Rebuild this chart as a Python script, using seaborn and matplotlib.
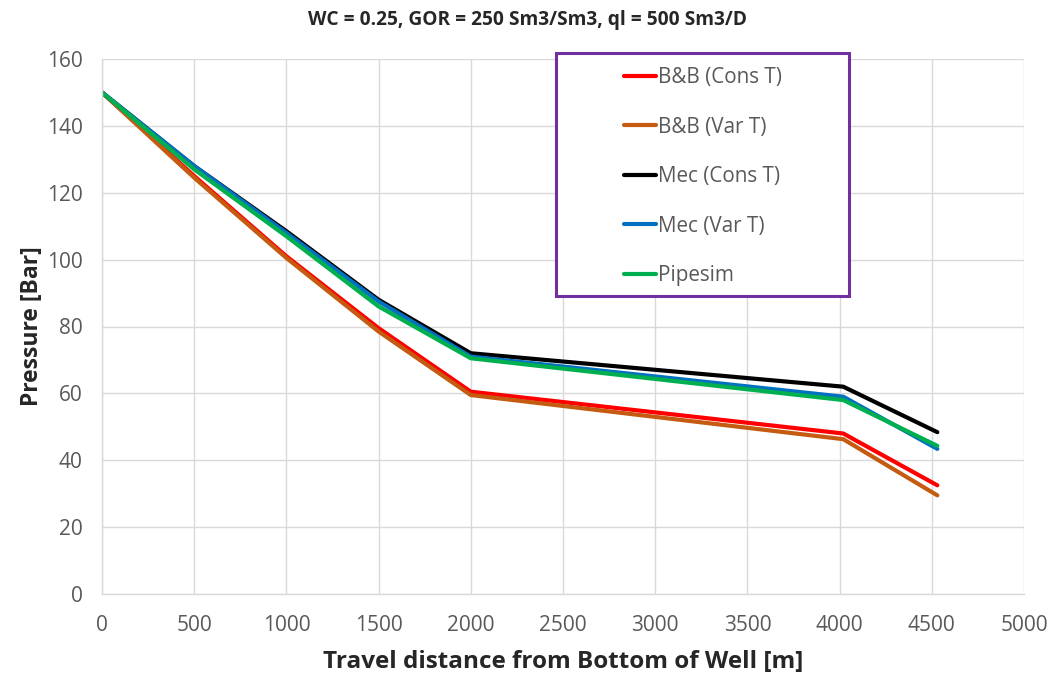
import pandas as pd
import matplotlib
matplotlib.use("Agg")
import matplotlib.pyplot as plt
from matplotlib.patches import Rectangle
import seaborn as sns

# distance from bottom of well [m]
distance = [0, 500, 1000, 1500, 2000, 4020, 4530]

bb_cons = [150, 125, 101, 79.5, 60.5, 48, 32.5]
bb_var = [150, 124.5, 100.5, 78.5, 59.5, 46.3, 29.5]
mec_cons = [150, 128, 108.5, 88, 72, 62, 48.4]
mec_var = [150, 128, 108, 87.5, 71, 59, 43.4]
pipesim = [150, 127, 107, 86, 70.5, 58, 44.3]

series_names = ["B&B (Cons T)", "B&B (Var T)", "Mec (Cons T)", "Mec (Var T)", "Pipesim"]
series_vals = [bb_cons, bb_var, mec_cons, mec_var, pipesim]
colors = ["#FF0000", "#C55A11", "#000000", "#0070C0", "#00B050"]

rows = []
for name, vals in zip(series_names, series_vals):
    for d, p in zip(distance, vals):
        rows.append({"dist": d, "pressure": p, "series": name})
df = pd.DataFrame(rows)

sns.set_style("whitegrid")
plt.rcParams["font.family"] = ["Open Sans", "DejaVu Sans"]

W, H = 1056, 680
fig = plt.figure(figsize=(W / 100, H / 100), dpi=100)
ax = fig.add_axes([102 / W, 1 - 594 / H, (1024 - 102) / W, (594 - 59) / H])

sns.lineplot(data=df, x="dist", y="pressure", hue="series", hue_order=series_names,
             palette=colors, linewidth=3, ax=ax, legend=True)

ax.set_xlim(0, 5000)
ax.set_ylim(0, 160)
ax.set_xticks(range(0, 5001, 500))
ax.set_yticks(range(0, 161, 20))
ax.grid(True, color="#D9D9D9", linewidth=1)
for s in ["top", "right"]:
    ax.spines[s].set_visible(False)
for s in ["left", "bottom"]:
    ax.spines[s].set_color("#D9D9D9")
    ax.spines[s].set_linewidth(1)
ax.tick_params(axis="y", labelsize=15, colors="#595959", length=0, pad=14)
ax.tick_params(axis="x", labelsize=15, colors="#595959", length=0, pad=15)

ax.set_xlabel("Travel distance from Bottom of Well [m]", fontsize=17.5, fontweight="bold", labelpad=10)
ax.set_ylabel("Pressure [Bar]", fontsize=16.5, fontweight="bold", labelpad=2)
fig.suptitle("WC = 0.25, GOR = 250 Sm3/Sm3, ql = 500 Sm3/D", fontsize=13.8, fontweight="bold",
             x=0.5, y=0.985)

# legend box (purple frame) drawn in figure coords
box = Rectangle((556 / W, 1 - 296 / H), (849 - 556) / W, (296 - 53) / H,
                transform=fig.transFigure, facecolor="white", edgecolor="#7030A0",
                linewidth=2.2, zorder=4)
fig.patches.append(box)

handles, labels = ax.get_legend_handles_labels()
ax.get_legend().remove()
leg = fig.legend(handles, labels, loc="upper left", bbox_to_anchor=(624 / W, 1 - 67 / H),
                 fontsize=14.9, labelspacing=1.38, handlelength=1.55, handletextpad=0.1,
                 borderpad=0, borderaxespad=0, frameon=False, labelcolor="#595959")
for h in leg.legend_handles:
    h.set_linewidth(3)
leg.set_zorder(6)

fig.savefig("out.png", dpi=100)
